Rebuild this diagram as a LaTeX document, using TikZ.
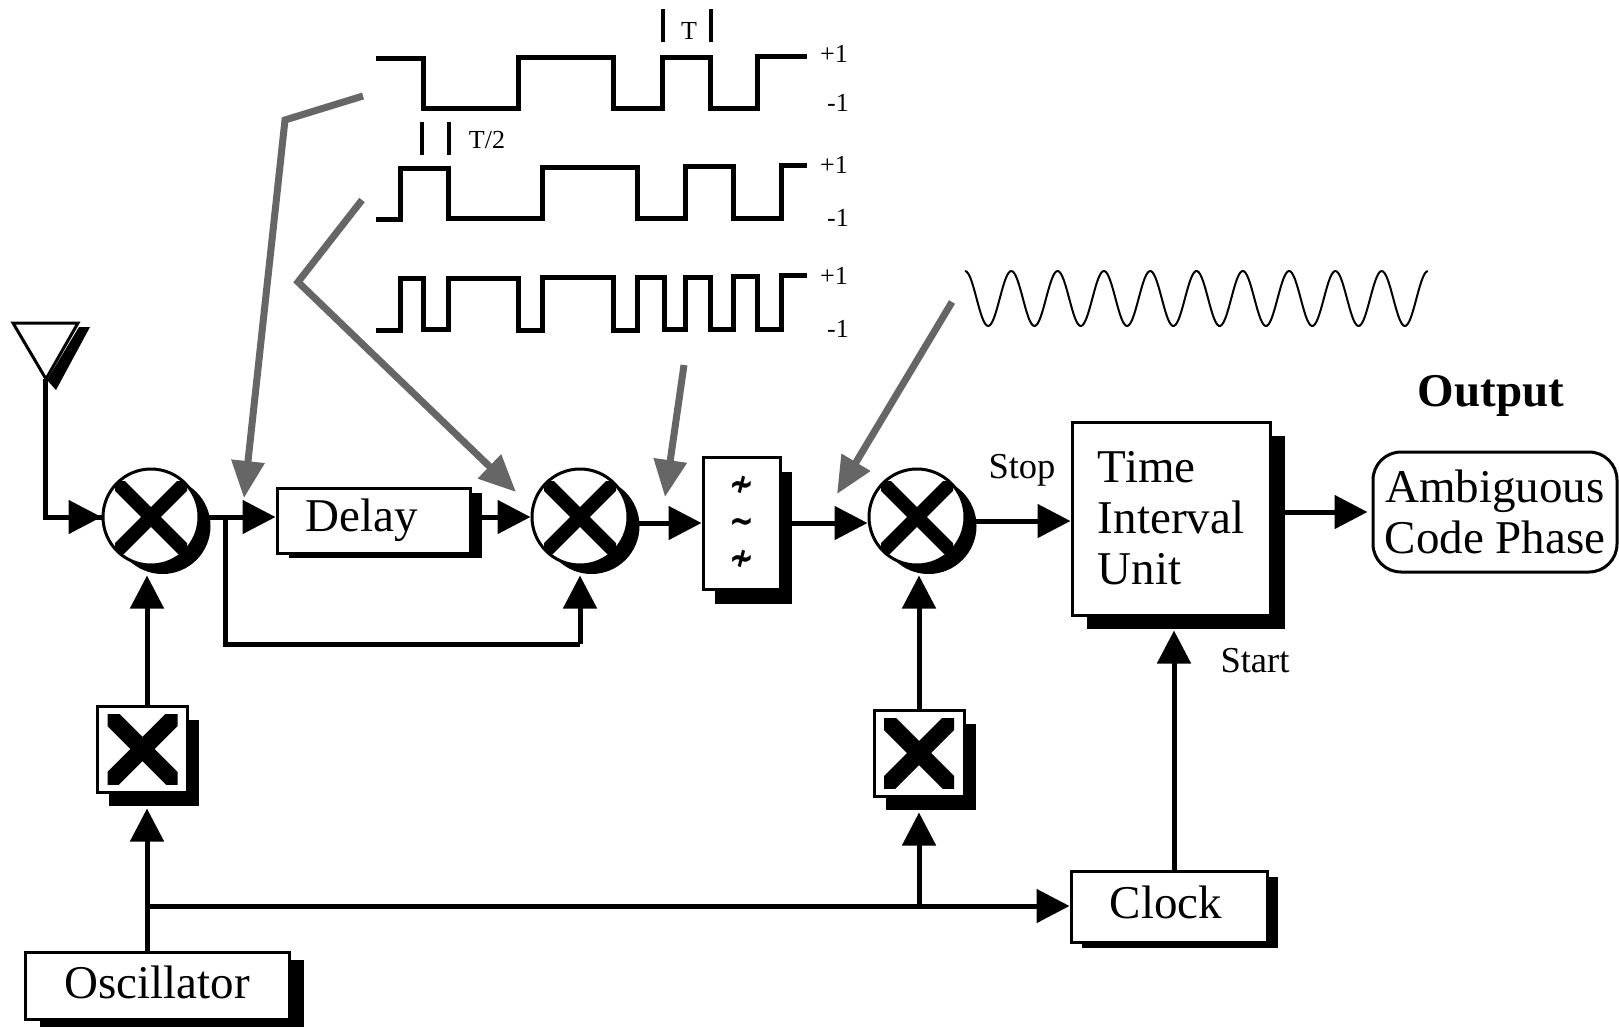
\documentclass[tikz,border=0pt]{standalone}
\usepackage{fontspec}
\setmainfont{Liberation Serif}
\newfontfamily\symfont{DejaVu Sans}[FakeStretch=0.8]
\usepackage{tikz}
\usetikzlibrary{arrows.meta,positioning,calc,shadows}

\begin{document}
\begin{tikzpicture}[
    x=1pt, y=-1pt, on grid,
    castshadow/.style 2 args={drop shadow={shadow xshift=#1, shadow yshift=-#2, opacity=1, fill=black}},
    crossarms/.style 2 args={path picture={
        \coordinate (pc) at (path picture bounding box.center);
        \clip ([shift={(-#1,-#1)}]pc) rectangle ([shift={(#1,#1)}]pc);
        \draw[line width=#2] ([shift={(-50pt,-50pt)}]pc) -- ([shift={(50pt,50pt)}]pc);
        \draw[line width=#2] ([shift={(-50pt,50pt)}]pc) -- ([shift={(50pt,-50pt)}]pc);
    }},
    block/.style={rectangle, draw, fill=white, line width=3pt, inner sep=0pt, font=\fontsize{47}{51}\selectfont},
    mixer/.style={circle, draw, fill=white, line width=3pt, inner sep=0pt, minimum size=96pt, castshadow={11.5pt}{9pt}, crossarms={36pt}{14pt}},
    multbox/.style={block, minimum width=90pt, minimum height=86pt, castshadow={11.5pt}{14pt}, crossarms={35pt}{17pt}},
    tag/.style={inner sep=0pt, font=\fontsize{36.5}{38}\selectfont},
    level/.style={inner sep=0pt, font=\fontsize{26}{28}\selectfont},
    flow/.style={-{Triangle[length=33pt, width=33pt]}, line width=5pt},
    wire/.style={line width=5pt},
    pulse/.style={line width=5pt},
    tick/.style={line width=3.5pt},
    probe/.style={-{Triangle[length=37pt, width=32pt]}, line width=7pt, black!60}
]
    \useasboundingbox (0,0) rectangle (1619,1029);

    \fill (79,327) -- (90,327) -- (56,390) -- (47,380) -- cycle;
    \draw[line width=3pt, fill=white] (13,323) -- (78,323) -- (46,379) -- cycle;
    \coordinate (antenna) at (45,379);

    \node[mixer] (mixA) at (151,517) {};
    \node[block, right=222.5pt of mixA, yshift=-3.5pt, minimum width=193pt, minimum height=65pt, castshadow={12pt}{5pt}, align=center] (delay) {Delay\hspace*{24pt}};
    \node[mixer, right=429pt of mixA] (mixB) {};
    \node[block, right=161.5pt of mixB, yshift=-6pt, minimum width=77pt, minimum height=132pt, castshadow={12pt}{15pt}, align=center, font=\symfont\bfseries\fontsize{37}{37}\selectfont] (filter) {≁\\∼\\≁};
    \node[mixer, right=766pt of mixA] (mixC) {};
    \node[block, right=254pt of mixC, yshift=-1.5pt, minimum width=198pt, minimum height=193pt, castshadow={15pt}{14pt}, align=left] (tiu) {Time\\Interval\\Unit};
    \node[block, right=324pt of tiu, yshift=6.5pt, minimum width=244pt, minimum height=120pt, rounded corners=28pt, align=center] (out) {Ambiguous\\Code Phase};
    \node[inner sep=0pt, above=116pt of out, xshift=-4pt, font=\fontsize{47}{49}\selectfont\bfseries] (outlabel) {Output};

    \node[multbox, below=232pt of mixA, xshift=-8.5pt] (multA) {};
    \node[multbox, below=236pt of mixC, xshift=2pt] (multB) {};
    \node[block, below=388pt of tiu, xshift=-2pt, minimum width=196pt, minimum height=71pt, text depth=8pt, castshadow={11pt}{6pt}] (clock) {Clock\hspace*{6pt}};
    \node[block, below=469pt of mixA, xshift=6pt, minimum width=264pt, minimum height=67pt, text depth=8pt, castshadow={15pt}{7pt}] (osc) {Oscillator};

    \node[tag] (stop) at (1022,470) {Stop};
    \node[tag] (start) at (1255,661) {Start};

    \coordinate (tapA) at (147,906);
    \coordinate (tapB) at (919,906);

    \draw[wire] (antenna) |- (mixA.west);
    \draw[flow] (antenna |- mixA.west) -- (mixA.west);
    \draw[flow] (mixA.east) -- (mixA.east -| delay.west);
    \draw[wire] (225,517) coordinate (split) -- (split |- 0,644) coordinate (loop) -- (loop -| mixB.south);
    \draw[flow, shorten >=9pt] (loop -| mixB.south) -- (mixB.south);
    \draw[flow] (delay.east |- mixB.west) -- (mixB.west);
    \draw[flow] (mixB.east |- filter.west) -- (filter.west);
    \draw[flow] (filter.east) -- (filter.east -| mixC.west);
    \draw[flow] ([yshift=-4pt]mixC.east) -- ([yshift=-4pt]mixC.east -| tiu.west);
    \draw[flow, shorten >=4pt] (tiu.east |- out.west) -- (out.west);

    \draw[wire] (tapA |- osc.north) -- (tapA);
    \draw[flow, shorten >=15pt] (tapA) -- (tapA |- multA.south);
    \draw[flow, shorten >=9pt] (tapA |- multA.north) -- (tapA |- mixA.south);
    \draw[flow] (tapA) -- (tapA -| clock.west);
    \draw[flow, shorten >=15pt] (tapB) -- (tapB |- multB.south);
    \draw[flow, shorten >=9pt] (tapB |- multB.north) -- (tapB |- mixC.south);
    \draw[flow, shorten >=14pt] ([xshift=5pt]clock.north) -- ([xshift=5pt]clock.north |- tiu.south);

    \draw[pulse] (376,58) -| (423,108) -| (518,57) -| (613,108) -| (662,57) -| (710,108) -| (757,56) -- (807,56);
    \draw[pulse] (376,219) -| (400,168) -| (448,218) -| (542,167) -| (637,218) -| (685,166) -| (733,218) -| (781,165) -- (807,165);
    \draw[pulse] (376,330) -| (400,278) -| (423,329) -| (448,278) -| (518,330) -| (542,277) -| (613,330) -| (637,277) -| (664,329) -| (685,277) -| (710,329) -| (733,276) -| (757,329) -| (781,275) -- (807,275);
    \draw[tick] (663,9) -- (663,42);
    \draw[tick] (711,9) -- (711,42);
    \draw[tick] (422,122) -- (422,155);
    \draw[tick] (449,122) -- (449,155);
    \node[level] (period) at (689,31) {T};
    \node[level] (halfperiod) at (487,140) {T/2};

    \node[level] (highA) at (834,54) {+1};
    \node[level] (lowA) at (838,103) {-1};
    \node[level] (highB) at (834,165) {+1};
    \node[level] (lowB) at (838,218) {-1};
    \node[level] (highC) at (834,276) {+1};
    \node[level] (lowC) at (838,329) {-1};

    \draw[line width=2pt] plot[domain=0:10, samples=300, smooth] ({965+46.3*\x},{298.5-27.5*cos(360*\x)});

    \coordinate (probeA) at (363,96);
    \coordinate (bendA) at (285,120);
    \coordinate (hitA) at (244,498);
    \coordinate (probeB) at (362,200);
    \coordinate (bendB) at (298,282);
    \coordinate (hitB) at (516,492);
    \coordinate (probeC) at (684,365);
    \coordinate (hitC) at (665,497);
    \coordinate (probeD) at (952,302);
    \coordinate (hitD) at (837,494);
    \draw[probe] (probeA) -- (bendA) -- (hitA);
    \draw[probe] (probeB) -- (bendB) -- (hitB);
    \draw[probe] (probeC) -- (hitC);
    \draw[probe] (probeD) -- (hitD);
\end{tikzpicture}
\end{document}
